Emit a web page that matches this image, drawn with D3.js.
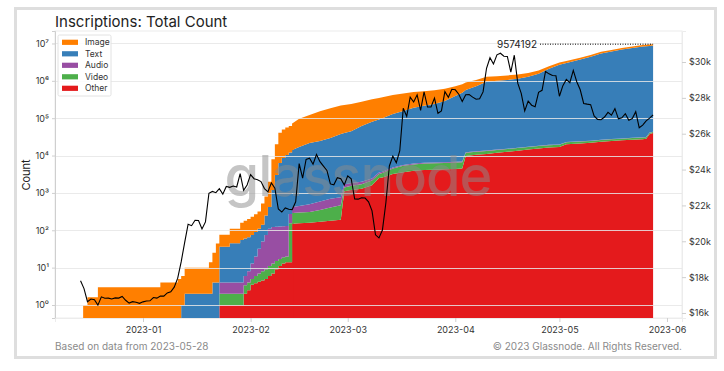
<!DOCTYPE html>
<html><head><meta charset="utf-8">
<script src="https://cdn.jsdelivr.net/npm/d3@7"></script>
<style>body{margin:0;background:#fff;} svg{display:block;font-family:Inter,"Noto Sans",sans-serif;}</style>
</head><body><svg id="c" width="724" height="371"></svg>
<script>
// ---------- data ----------
const stackDates = ["2022-12-14T18:00","2022-12-16","2022-12-19","2023-01-06","2023-01-11","2023-01-12","2023-01-13","2023-01-20","2023-01-21","2023-01-22",
"2023-01-23","2023-01-26","2023-01-29","2023-01-30","2023-01-31","2023-02-01","2023-02-02","2023-02-03","2023-02-04","2023-02-05",
"2023-02-06","2023-02-07","2023-02-08","2023-02-09","2023-02-10","2023-02-11","2023-02-12","2023-02-13","2023-02-15","2023-02-18",
"2023-02-21","2023-02-24","2023-02-27","2023-02-28","2023-03-02","2023-03-05","2023-03-08","2023-03-10","2023-03-11","2023-03-14",
"2023-03-17","2023-03-20","2023-03-23","2023-03-26","2023-03-29","2023-04-01","2023-04-03","2023-04-04","2023-04-07","2023-04-10",
"2023-04-13","2023-04-16","2023-04-19","2023-04-22","2023-04-25","2023-04-28","2023-05-01","2023-05-03","2023-05-07","2023-05-10",
"2023-05-13","2023-05-16","2023-05-19","2023-05-22","2023-05-25","2023-05-26","2023-05-27","2023-05-28"];
const other = [0,0,0,0,0,0,0,0,0,0,
1,1,1,2,2.5,3.5,3.8,4.2,4.5,5,
6,7,9,11,13,14,14,150,155,160,
170,180,190,1100,1200,1300,1600,2500,2600,3200,
3600,3900,4100,4200,4300,4400,4500,9800,10500,11000,
11800,12600,13500,14500,15500,16500,17000,20000,21000,22000,
23500,24500,25500,26500,27500,28000,38000,40000];
const video = [0,0,0,0,0,0,0,0,0,0,
1,1,1,1.4,1.5,1.5,2.2,2.8,3.5,4,
5,6,6,6,6,6,140,140,145,150,
180,230,280,300,350,400,550,700,800,1300,
1700,1900,2000,2000,2050,2100,2100,2150,2200,2250,
2300,2300,2350,2400,2450,2500,2550,2600,2650,2700,
2750,2800,2850,2900,2950,2960,2980,3000];
const audio = [0,0,0,0,0,0,0,0,0,0,
2,2,2,2.6,4,8,14,25,42,66,
99,110,110,110,110,110,120,130,150,190,
240,290,300,300,300,300,300,300,300,300,
300,300,300,300,300,300,300,320,330,330,
340,340,345,350,355,360,365,370,375,380,
385,390,392,395,398,399,400,400];
const text = [0,0,0,0,0,1,2,2,4,4,
32,41,51,54,57,62,70,78,90,175,
310,1077,2875,6173,8471,10170,11726,13580,16550,21300,
24010,29000,37230,38300,43150,60000,77550,88500,96300,125200,
149400,183900,208600,233500,283350,383200,473100,557730,706970,936420,
985560,1044760,1113805,1262750,1521695,2080640,2680085,2977030,3675975,4374920,
5373365,6072310,6870758,7570205,8269152,8400000,8558620,8730792];
const image = [1,1.6,3,4,5,5,8,12,21,40,
40,65,105,120,135,155,180,210,380,550,
1580,6800,17000,34700,41400,45700,50000,58000,80000,100000,
130000,155000,180000,185000,195000,215000,240000,255000,265000,285000,
300000,310000,315000,320000,322000,325000,327000,328000,330000,333000,
336000,340000,345000,350000,360000,375000,400000,420000,480000,530000,
580000,630000,680000,720000,760000,770000,780000,800000];

const btcStart = "2022-12-14";
const btcPrice = [17800,17360,16630,16780,16740,16440,16900,16820,16830,16780,16840,16830,16920,16710,16550,16630,16600,16540,
16620,16670,16680,16860,16830,16950,16940,17120,17180,17440,17940,18850,19930,20950,20870,21170,21160,20690,21080,22680,22780,22710,22930,22630,23060,23010,23080,23030,23770,22840,23140,
23720,23490,23430,23330,22940,22760,23260,22960,21800,21630,21860,21790,21770,22200,24330,23520,24570,24630,24300,24840,24440,24190,23950,23200,23150,23550,23490,23140,
23650,23480,22360,22350,22430,22410,22200,21700,20360,20190,20630,22160,24200,24750,24380,25050,27420,26970,28040,27770,28170,27300,28330,27490,27490,27990,27140,27270,28350,28030,28480,
28450,28200,27800,28170,28180,28040,27920,27950,28330,29650,30240,29890,30400,30490,30320,30310,29430,30380,28820,28250,27270,27820,27590,27510,28310,28420,29470,29340,29250,29230,
28090,28680,29030,28850,29530,28900,28450,27690,27650,27620,26990,26800,26780,26930,27190,27030,27400,26830,26890,27120,26750,26850,27230,26330,26480,26720,26870,27050];

const seriesKeys = ["Other","Video","Audio","Text","Image"];
const legendKeys = ["Image","Text","Audio","Video","Other"];
const colors = {Image:"#ff7f00",Text:"#377eb8",Audio:"#984ea3",Video:"#4daf4a",Other:"#e41a1c"};
const xTickLabels = ["2023-01","2023-02","2023-03","2023-04","2023-05","2023-06"];
const yTickExp = [0,1,2,3,4,5,6,7];
const rightTicks = [16000,18000,20000,22000,24000,26000,28000,30000];
const lastTotal = 9574192;
const smoothFrom = "2023-02-13";

// ---------- layout ----------
const svg = d3.select("#c");
const L = 55, R = 682, T = 31, B = 318;
const day = 864e5;
const jan1 = new Date("2023-01-01T00:00:00Z");
const x = d3.scaleUtc().domain([new Date(+jan1 - 25.36*day), new Date(+jan1 + 155.33*day)]).range([L, R]);
const ymin = Math.pow(10,-0.348), ymax = Math.pow(10,7.334);
const y = d3.scaleLog().domain([ymin, ymax]).range([B, T]).clamp(true);
const y2 = d3.scaleLinear().domain([15720, 31730]).range([B, T]);
const parse = s => new Date(s.length > 10 ? s + "Z" : s + "T00:00:00Z");

// outer frame
svg.append("rect").attr("x",15.5).attr("y",8.5).attr("width",700).attr("height",349)
  .attr("fill","#fff").attr("stroke","#dedede").attr("stroke-width",3);

// title
svg.append("text").attr("x",55).attr("y",27).attr("font-size",15).attr("fill","#222").text("Inscriptions: Total Count");

// plot border
svg.append("rect").attr("x",L).attr("y",T).attr("width",R-L).attr("height",B-T)
  .attr("fill","none").attr("stroke","#ececec").attr("stroke-width",1);

// clip regions: stepped early part, smoother later part (overlapping so no seam)
const xs = x(parse(smoothFrom));
const defs = svg.append("defs");
defs.append("clipPath").attr("id","clipA").append("rect").attr("x",L).attr("y",T).attr("width",xs-L+1.5).attr("height",B-T);
defs.append("clipPath").attr("id","clipB").append("rect").attr("x",xs).attr("y",T).attr("width",R-xs).attr("height",B-T);

// stacked areas
const rows = stackDates.map((d,i)=>({date:parse(d),Other:other[i],Video:video[i],Audio:audio[i],Text:text[i],Image:image[i]}));
const stack = d3.stack().keys(seriesKeys)(rows);
const mkArea = curve => d3.area().curve(curve)
  .x(d=>x(d.data.date))
  .y0(d=>y(Math.max(d[0],ymin)))
  .y1(d=>y(Math.max(d[1],ymin)));
svg.append("g").attr("clip-path","url(#clipB)").selectAll("path").data(stack).join("path")
  .attr("d",mkArea(d3.curveLinear)).attr("fill",d=>colors[d.key]);
svg.append("g").attr("clip-path","url(#clipA)").selectAll("path").data(stack).join("path")
  .attr("d",mkArea(d3.curveStepAfter)).attr("fill",d=>colors[d.key]);

// gridlines (on top of areas)
svg.append("g").selectAll("line").data(yTickExp).join("line")
  .attr("x1",L).attr("x2",R)
  .attr("y1",d=>Math.round(y(Math.pow(10,d)))+0.5).attr("y2",d=>Math.round(y(Math.pow(10,d)))+0.5)
  .attr("stroke","#e6e6e6").attr("stroke-opacity",0.85).attr("stroke-width",1.2);

// watermark
svg.append("text").attr("x",358).attr("y",196).attr("text-anchor","middle")
  .attr("font-size",56).attr("font-weight",500).attr("fill","#8c8c8c").attr("fill-opacity",0.5)
  .attr("letter-spacing",-1).text("glassnode");

// BTC price line
const s0 = parse(btcStart);
const btc = btcPrice.map((v,i)=>({date:new Date(+s0 + i*day), v}));
svg.append("path").datum(btc)
  .attr("d", d3.line().x(d=>x(d.date)).y(d=>y2(d.v)))
  .attr("fill","none").attr("stroke","#000").attr("stroke-width",1.1);

// left axis
const sup = "⁰¹²³⁴⁵⁶⁷⁸⁹";
const gl = svg.append("g").attr("transform",`translate(${L},0)`)
  .call(d3.axisLeft(y).tickValues(yTickExp.map(e=>Math.pow(10,e))).tickSize(3)
    .tickFormat(d=>"10"+sup[Math.round(Math.log10(d))]));
gl.select(".domain").attr("stroke","#cfcfcf");
gl.selectAll(".tick line").attr("stroke","#cfcfcf");
gl.selectAll("text").attr("font-size",9).attr("fill","#333").attr("font-family","Inter,'Noto Sans',sans-serif");

svg.append("text").attr("transform","translate(30,175) rotate(-90)").attr("text-anchor","middle")
  .attr("font-size",11).attr("fill","#222").text("Count");

// right axis
const gr = svg.append("g").attr("transform",`translate(${R},0)`)
  .call(d3.axisRight(y2).tickValues(rightTicks).tickSize(4).tickFormat(d=>"$"+(d/1000)+"k"));
gr.select(".domain").attr("stroke","#ececec");
gr.selectAll(".tick line").attr("stroke","#cfcfcf");
gr.selectAll("text").attr("font-size",9).attr("fill","#333").attr("font-family","Inter,'Noto Sans',sans-serif");

// bottom axis
const xTicks = xTickLabels.map(s=>parse(s+"-01"));
const gb = svg.append("g").attr("transform",`translate(0,${B})`)
  .call(d3.axisBottom(x).tickValues(xTicks).tickSize(4).tickFormat(d3.utcFormat("%Y-%m")));
gb.select(".domain").attr("stroke","#ececec");
gb.selectAll(".tick line").attr("stroke","#cfcfcf");
gb.selectAll("text").attr("font-size",9).attr("fill","#333").attr("dy","0.9em").attr("font-family","Inter,'Noto Sans',sans-serif");

// annotation
const lastDate = parse(stackDates[stackDates.length-1]);
const ay = y(lastTotal);
svg.append("line").attr("x1",540).attr("x2",x(lastDate)).attr("y1",ay).attr("y2",ay)
  .attr("stroke","#000").attr("stroke-width",1).attr("stroke-dasharray","1,1.5");
svg.append("text").attr("x",537).attr("y",ay+3.5).attr("text-anchor","end")
  .attr("font-size",10).attr("fill","#222").text(String(lastTotal));

// legend
const lg = svg.append("g").attr("transform","translate(58,35)");
lg.append("rect").attr("width",53).attr("height",61).attr("fill","#fff").attr("fill-opacity",0.85)
  .attr("stroke","#e2e2e2").attr("rx",1.5);
legendKeys.forEach((k,i)=>{
  const gy = 7.3 + i*11.5;
  lg.append("rect").attr("x",4).attr("y",gy-2.6).attr("width",16).attr("height",5.2).attr("fill",colors[k]);
  lg.append("text").attr("x",27).attr("y",gy+3).attr("font-size",8.5).attr("fill","#333").text(k);
});

// footer
svg.append("text").attr("x",55).attr("y",350).attr("font-size",10).attr("fill","#8a8a8a").text("Based on data from 2023-05-28");
svg.append("text").attr("x",682).attr("y",350).attr("text-anchor","end").attr("font-size",10).attr("fill","#8a8a8a").text("© 2023 Glassnode. All Rights Reserved.");
</script></body></html>
